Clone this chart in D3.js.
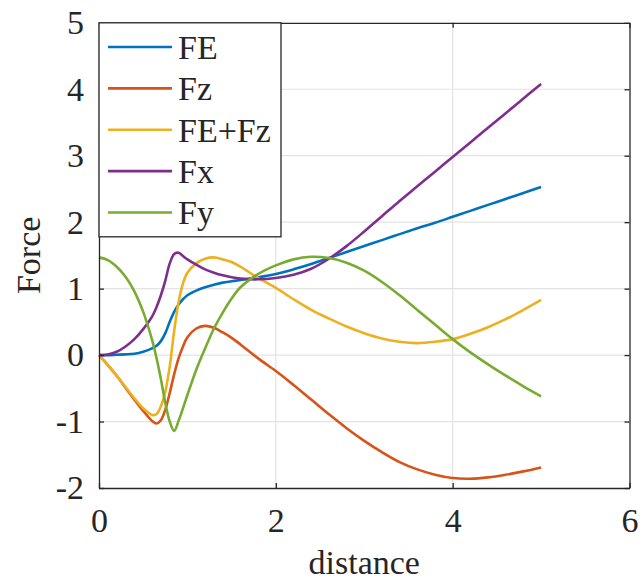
<!DOCTYPE html>
<html>
<head>
<meta charset="utf-8">
<script src="https://cdn.jsdelivr.net/npm/d3@7/dist/d3.min.js"></script>
<style>
  html, body { margin: 0; padding: 0; background: #fff; }
  svg { display: block; }
  svg text { font-family: "Liberation Serif", Tinos, "Times New Roman", Times, "Nimbus Roman", "DejaVu Serif", serif; fill: #262626; }
</style>
</head>
<body>
<svg id="chart" width="642" height="586"></svg>
<script>
// ---- data ----
const distance = [0, 0.1, 0.2, 0.3, 0.4, 0.5, 0.6, 0.65, 0.7, 0.75, 0.8, 0.85, 0.9, 0.95, 1.0, 1.1, 1.2, 1.3, 1.4, 1.5, 1.6, 1.8, 2.0, 2.2, 2.4, 2.6, 2.8, 3.0, 3.2, 3.4, 3.6, 3.8, 4.0, 4.2, 4.4, 4.6, 4.8, 5.0];
const FE   = [0, 0, 0.005, 0.01, 0.02, 0.05, 0.1, 0.14, 0.21, 0.33, 0.5, 0.65, 0.76, 0.84, 0.9, 0.97, 1.02, 1.06, 1.09, 1.11, 1.13, 1.17, 1.22, 1.29, 1.37, 1.46, 1.55, 1.64, 1.73, 1.82, 1.91, 1.99, 2.08, 2.17, 2.26, 2.35, 2.44, 2.53];
const Fz   = [0, -0.15, -0.31, -0.49, -0.67, -0.84, -0.99, -1.03, -0.98, -0.82, -0.57, -0.29, -0.05, 0.13, 0.27, 0.4, 0.44, 0.41, 0.34, 0.26, 0.16, -0.05, -0.24, -0.45, -0.67, -0.89, -1.1, -1.29, -1.46, -1.61, -1.72, -1.8, -1.85, -1.86, -1.84, -1.8, -1.75, -1.69];
const FEFz = [0, -0.15, -0.31, -0.48, -0.65, -0.8, -0.9, -0.89, -0.77, -0.55, -0.17, 0.36, 0.8, 1.08, 1.24, 1.38, 1.45, 1.47, 1.44, 1.4, 1.33, 1.16, 1.01, 0.84, 0.68, 0.55, 0.43, 0.33, 0.25, 0.2, 0.18, 0.2, 0.24, 0.32, 0.42, 0.54, 0.68, 0.83];
const Fx   = [0, 0.01, 0.05, 0.13, 0.24, 0.39, 0.58, 0.72, 0.9, 1.12, 1.38, 1.52, 1.54, 1.49, 1.44, 1.36, 1.29, 1.24, 1.2, 1.17, 1.15, 1.14, 1.16, 1.21, 1.3, 1.45, 1.64, 1.86, 2.09, 2.32, 2.54, 2.76, 2.98, 3.2, 3.42, 3.64, 3.86, 4.08];
const Fy   = [1.47, 1.43, 1.33, 1.18, 0.96, 0.65, 0.23, -0.04, -0.36, -0.72, -1.0, -1.14, -0.99, -0.8, -0.6, -0.22, 0.1, 0.4, 0.64, 0.85, 1.02, 1.22, 1.35, 1.44, 1.48, 1.46, 1.39, 1.27, 1.1, 0.9, 0.68, 0.46, 0.24, 0.04, -0.14, -0.31, -0.47, -0.62];

const seriesNames = ["FE", "Fz", "FE+Fz", "Fx", "Fy"];
const seriesValues = [FE, Fz, FEFz, Fx, Fy];
const seriesColors = ["#0072BD", "#D95319", "#EDB120", "#7E2F8E", "#77AC30"];
const xTicks = [0, 2, 4, 6];
const yTicks = [-2, -1, 0, 1, 2, 3, 4, 5];
const xLabel = "distance";
const yLabel = "Force";

// ---- layout ----
const svg = d3.select("#chart");
const L = 99, R = 629.5, T = 22.8, B = 488;
const x = d3.scaleLinear().domain([0, 6]).range([L, R]);
const y = d3.scaleLinear().domain([-2, 5]).range([B, T]);
const axisColor = "#262626";
const fontSize = 34;
const fontStack = '"Liberation Serif", Tinos, "Times New Roman", Times, "Nimbus Roman", "DejaVu Serif", serif';

// grid
const grid = svg.append("g");
grid.selectAll("line.gx").data(xTicks.slice(1, -1)).join("line")
  .attr("x1", d => x(d)).attr("x2", d => x(d)).attr("y1", T).attr("y2", B)
  .attr("stroke", "#e3e3e3").attr("stroke-width", 1.2);
grid.selectAll("line.gy").data(yTicks.slice(1, -1)).join("line")
  .attr("y1", d => y(d)).attr("y2", d => y(d)).attr("x1", L).attr("x2", R)
  .attr("stroke", "#e3e3e3").attr("stroke-width", 1.2);

// lines
const line = d3.line().x((d, i) => x(distance[i])).y(d => y(d)).curve(d3.curveCatmullRom.alpha(0.5));
svg.append("g").selectAll("path").data(seriesValues).join("path")
  .attr("d", d => line(d))
  .attr("fill", "none")
  .attr("stroke", (d, i) => seriesColors[i])
  .attr("stroke-width", 2.6)
  .attr("stroke-linejoin", "round");

// axes (ticks inside)
const tickLen = 5;
const fmt = d => d < 0 ? "-" + Math.abs(d) : String(d);
const axB = svg.append("g").attr("transform", `translate(0,${B})`)
  .call(d3.axisBottom(x).tickValues(xTicks).tickFormat(fmt).tickSizeInner(-tickLen).tickSizeOuter(0).tickPadding(20));
const axT = svg.append("g").attr("transform", `translate(0,${T})`)
  .call(d3.axisTop(x).tickValues(xTicks).tickSizeInner(-tickLen).tickSizeOuter(0).tickFormat(""));
const axL = svg.append("g").attr("transform", `translate(${L},0)`)
  .call(d3.axisLeft(y).tickValues(yTicks).tickFormat(fmt).tickSizeInner(-tickLen).tickSizeOuter(0).tickPadding(15));
const axR = svg.append("g").attr("transform", `translate(${R},0)`)
  .call(d3.axisRight(y).tickValues(yTicks).tickSizeInner(-tickLen).tickSizeOuter(0).tickFormat(""));
[axB, axT, axL, axR].forEach(a => {
  a.attr("font-family", fontStack).attr("font-size", fontSize);
  a.select(".domain").attr("stroke", axisColor).attr("stroke-width", 1.3);
  a.selectAll(".tick line").attr("stroke", axisColor).attr("stroke-width", 1.3);
  a.selectAll(".tick text").attr("fill", axisColor);
});

// axis labels
svg.append("text").attr("x", (L + R) / 2).attr("y", 574).attr("text-anchor", "middle")
  .attr("font-family", fontStack).attr("font-size", fontSize).text(xLabel);
svg.append("text").attr("transform", `translate(40,${(T + B) / 2}) rotate(-90)`)
  .attr("text-anchor", "middle").attr("font-family", fontStack).attr("font-size", fontSize).text(yLabel);

// legend
const lg = svg.append("g");
lg.append("rect").attr("x", L).attr("y", T).attr("width", 182).attr("height", 214)
  .attr("fill", "#fff").attr("stroke", axisColor).attr("stroke-width", 1.3);
const rowY = d3.scalePoint().domain(seriesNames).range([47, 212.5]);
const items = lg.selectAll("g.item").data(seriesNames).join("g").attr("class", "item")
  .attr("transform", d => `translate(0,${rowY(d)})`);
items.append("line").attr("x1", 108).attr("x2", 172).attr("y1", 0).attr("y2", 0)
  .attr("stroke", (d, i) => seriesColors[i]).attr("stroke-width", 2.6);
items.append("text").attr("x", 178).attr("y", 0).attr("dy", "0.35em")
  .attr("font-family", fontStack).attr("font-size", fontSize).text(d => d);
</script>
</body>
</html>
